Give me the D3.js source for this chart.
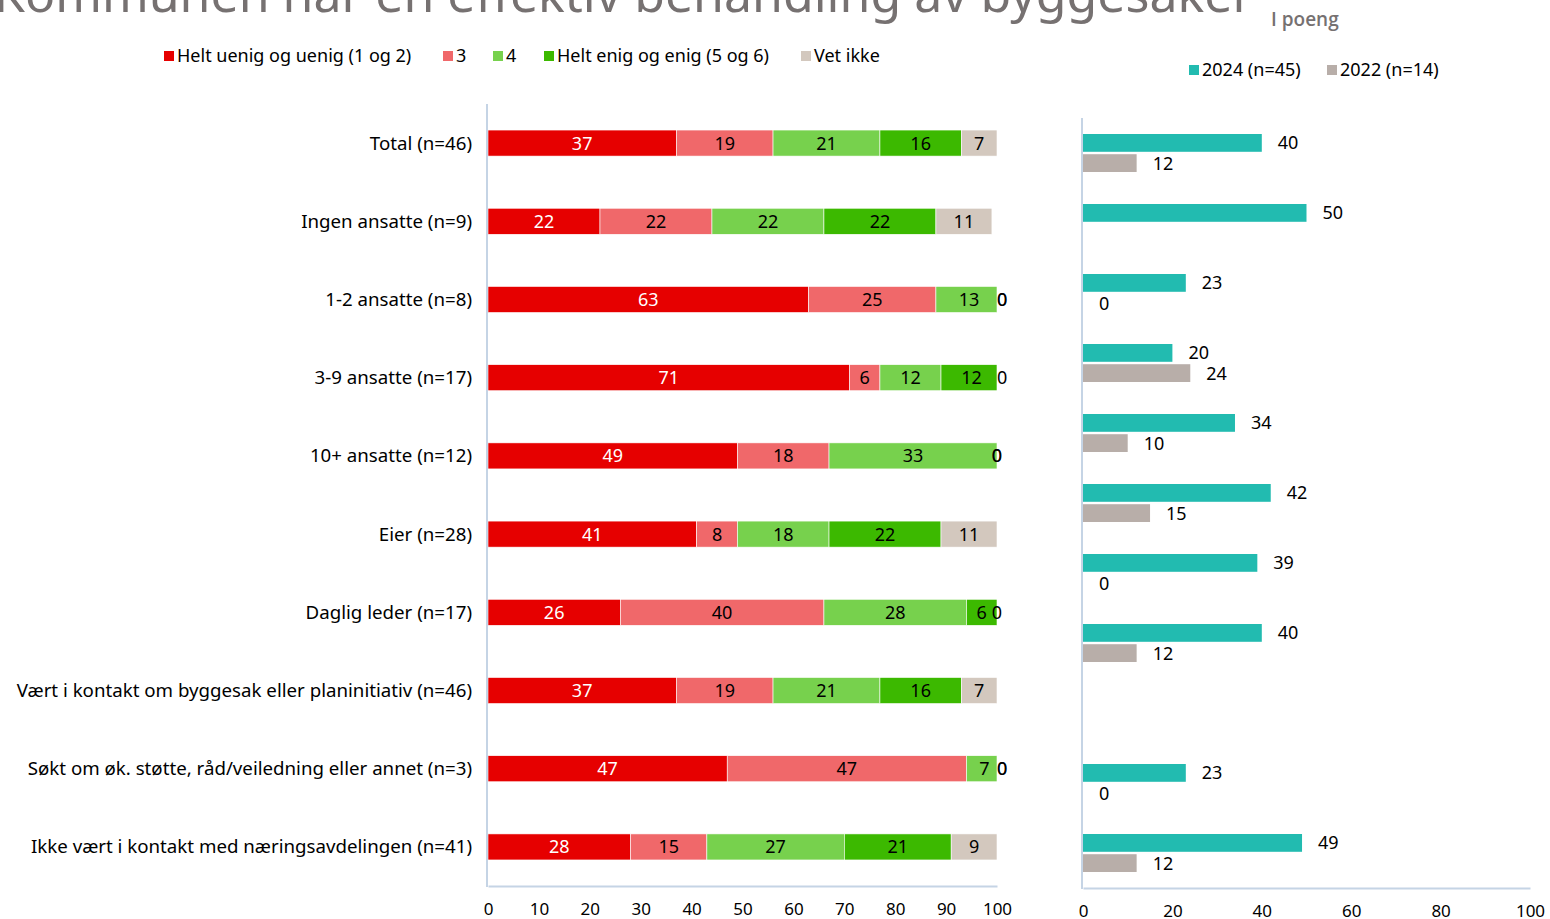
<!DOCTYPE html>
<html>
<head>
<meta charset="utf-8">
<script src="https://cdn.jsdelivr.net/npm/d3@7"></script>
<style>
  body { margin: 0; background: #fff; }
  svg { font-family: "Noto Sans", sans-serif; }
</style>
</head>
<body>
<div id="chart"></div>
<script>
const title = "Kommunen har en effektiv behandling av byggesaker"
const subtitle = "I poeng"

const groups = [
    "Total (n=46)",
    "Ingen ansatte (n=9)",
    "1-2 ansatte (n=8)",
    "3-9 ansatte (n=17)",
    "10+ ansatte (n=12)",
    "Eier (n=28)",
    "Daglig leder (n=17)",
    "Vært i kontakt om byggesak eller planinitiativ (n=46)",
    "Søkt om øk. støtte, råd/veiledning eller annet (n=3)",
    "Ikke vært i kontakt med næringsavdelingen (n=41)"
]
const series = ["Helt uenig og uenig (1 og 2)", "3", "4", "Helt enig og enig (5 og 6)", "Vet ikke"]
const colors = ["#e60000", "#f0686a", "#77d14d", "#3cb900", "#d3c8be"]

const uenig = [37, 22, 63, 71, 49, 41, 26, 37, 47, 28]
const tre = [19, 22, 25, 6, 18, 8, 40, 19, 47, 15]
const fire = [21, 22, 13, 12, 33, 18, 28, 21, 7, 27]
const enig = [16, 22, 0, 12, 0, 22, 6, 16, 0, 21]
const vetIkke = [7, 11, 0, 0, 0, 11, 0, 7, 0, 9]

// right panel: one extra (empty) slot before "Søkt om"
const pointGroups = [
    "Total", "Ingen ansatte", "1-2 ansatte", "3-9 ansatte", "10+ ansatte",
    "Eier", "Daglig leder", "Vært i kontakt", "(ingen)", "Søkt om", "Ikke vært i kontakt"
]
const years = ["2024 (n=45)", "2022 (n=14)"]
const yearColors = ["#22bbb0", "#b8aea9"]
const poeng2024 = [40, 50, 23, 20, 34, 42, 39, 40, null, 23, 49]
const poeng2022 = [12, null, 0, 24, 10, 15, 0, 12, null, 0, 12]

const xTicksLeft = [0, 10, 20, 30, 40, 50, 60, 70, 80, 90, 100]
const xTicksRight = [0, 20, 40, 60, 80, 100]

let width = 1550
let height = 919
const axisColor = "#c5d4e5"

var svg = d3.select("#chart")
    .append("svg")
    .attr("width", width)
    .attr("height", height)

// title (cut at the top, as in the source)
svg.append("text")
    .attr("x", -6)
    .attr("y", 12)
    .attr("fill", "#767171")
    .style("font-size", "50px")
    .text(title)

svg.append("text")
    .attr("x", 1271)
    .attr("y", 26)
    .attr("fill", "#767171")
    .style("font-family", "Open Sans")
    .style("font-size", "19px")
    .style("font-weight", "600")
    .text(subtitle)

// ---------- left stacked chart ----------
const stackData = groups.map((g, i) => ({
    group: g,
    "Helt uenig og uenig (1 og 2)": uenig[i],
    "3": tre[i],
    "4": fire[i],
    "Helt enig og enig (5 og 6)": enig[i],
    "Vet ikke": vetIkke[i]
}))
const stacked = d3.stack().keys(series)(stackData)

const x = d3.scaleLinear().domain([0, 100]).range([488, 997])
const xBar = x.copy().clamp(true)
const y = d3.scaleBand().domain(groups).range([104, 886]).paddingInner(0.667).paddingOuter(0.333)

svg.append("g").selectAll("text")
    .data(groups)
    .enter().append("text")
    .attr("x", 472)
    .attr("y", d => y(d) + y.bandwidth() / 2)
    .attr("dy", "0.35em")
    .attr("text-anchor", "end")
    .attr("fill", "#000")
    .style("font-size", "18.7px")
    .text(d => d)

const layers = svg.append("g").selectAll("g")
    .data(stacked)
    .enter().append("g")
    .attr("fill", (d, i) => colors[i])

layers.selectAll("rect")
    .data(d => d)
    .enter().append("rect")
    .attr("x", d => xBar(d[0]))
    .attr("y", d => y(d.data.group))
    .attr("width", d => xBar(d[1]) - xBar(d[0]))
    .attr("height", y.bandwidth())
    .attr("stroke", "#fff")
    .attr("stroke-width", 0.6)

stacked.forEach((layer, li) => {
    svg.append("g").selectAll("text")
        .data(layer)
        .enter().append("text")
        .attr("x", d => x((d[0] + d[1]) / 2))
        .attr("y", d => y(d.data.group) + y.bandwidth() / 2)
        .attr("dy", "0.36em")
        .attr("text-anchor", "middle")
        .attr("fill", li == 0 ? "#fff" : "#000")
        .style("font-size", "18px")
        .text(d => d[1] - d[0])
})

const axL = svg.append("g")
    .attr("transform", "translate(0,886)")
    .call(d3.axisBottom(x).tickValues(xTicksLeft).tickSize(0).tickPadding(17))
axL.select(".domain").attr("stroke", axisColor).attr("stroke-width", 2)
axL.selectAll("text").style("font-size", "17px").attr("fill", "#000").style("font-family", "Noto Sans")
svg.append("line")
    .attr("x1", 487).attr("x2", 487).attr("y1", 104).attr("y2", 887)
    .attr("stroke", axisColor).attr("stroke-width", 2)

// ---------- right grouped chart ----------
const x2 = d3.scaleLinear().domain([0, 100]).range([1083, 1530])
const y2 = d3.scaleBand().domain(pointGroups).range([118, 888])
const inner = d3.scaleBand().domain(years).range([16, 54]).paddingInner(0.12)

const seriesVals = [poeng2024, poeng2022]
seriesVals.forEach((vals, si) => {
    const rows = pointGroups.map((g, i) => ({ g: g, v: vals[i] })).filter(d => d.v != null)
    svg.append("g").selectAll("rect")
        .data(rows)
        .enter().append("rect")
        .attr("x", x2(0))
        .attr("y", d => y2(d.g) + inner(years[si]))
        .attr("width", d => x2(d.v) - x2(0))
        .attr("height", inner.bandwidth())
        .attr("fill", yearColors[si])
    svg.append("g").selectAll("text")
        .data(rows)
        .enter().append("text")
        .attr("x", d => x2(d.v) + 16)
        .attr("y", d => y2(d.g) + inner(years[si]) + inner.bandwidth() / 2)
        .attr("dy", "0.36em")
        .attr("fill", "#000")
        .style("font-size", "18px")
        .text(d => d.v)
})

const axR = svg.append("g")
    .attr("transform", "translate(0,888)")
    .call(d3.axisBottom(x2).tickValues(xTicksRight).tickSize(0).tickPadding(17))
axR.select(".domain").attr("stroke", axisColor).attr("stroke-width", 2)
axR.selectAll("text").style("font-size", "17px").attr("fill", "#000").style("font-family", "Noto Sans")
svg.append("line")
    .attr("x1", 1082).attr("x2", 1082).attr("y1", 118).attr("y2", 889)
    .attr("stroke", axisColor).attr("stroke-width", 2)

// ---------- legends ----------
const legendX = [164, 443, 493, 544, 801]
const leg = svg.append("g").selectAll("g")
    .data(series)
    .enter().append("g")
    .attr("transform", (d, i) => "translate(" + legendX[i] + ",56)")
leg.append("rect").attr("x", 0).attr("y", -5).attr("width", 10).attr("height", 10).attr("fill", (d, i) => colors[i])
leg.append("text").attr("x", 13).attr("dy", "0.36em").style("font-size", "18px").text(d => d)

const legendX2 = [1189, 1327]
const leg2 = svg.append("g").selectAll("g")
    .data(years)
    .enter().append("g")
    .attr("transform", (d, i) => "translate(" + legendX2[i] + ",70)")
leg2.append("rect").attr("x", 0).attr("y", -5).attr("width", 10).attr("height", 10).attr("fill", (d, i) => yearColors[i])
leg2.append("text").attr("x", 13).attr("dy", "0.36em").style("font-size", "18px").text(d => d)
</script>
</body>
</html>
